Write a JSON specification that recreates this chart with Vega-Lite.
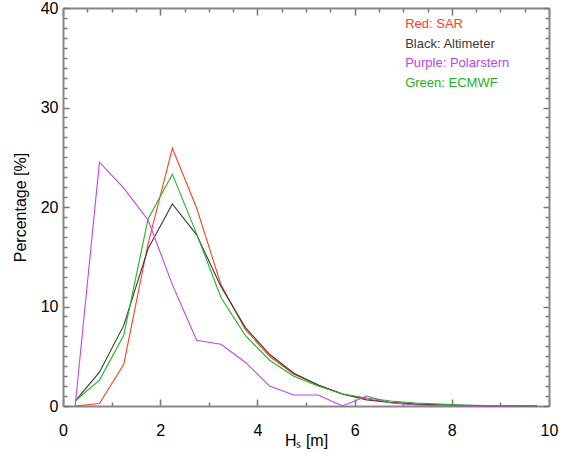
{
  "$schema": "https://vega.github.io/schema/vega-lite/v6.json",
  "width": 486,
  "height": 398,
  "autosize": {"type": "none"},
  "padding": {"left": 63, "top": 8, "right": 24, "bottom": 49},
  "background": "white",
  "config": {
    "font": "Liberation Sans",
    "view": {"stroke": null},
    "axis": {
      "grid": false,
      "domainColor": "#888888",
      "domainWidth": 2,
      "tickColor": "#777777",
      "tickWidth": 1.5,
      "labelColor": "black",
      "titleColor": "black",
      "labelFontSize": 16,
      "titleFontSize": 16,
      "titleFontWeight": "normal",
      "labelOverlap": false,
      "labelFlush": false
    }
  },
  "datasets": {
    "hist": [
      {"hs": 0.25, "pct": 0, "series": "SAR"},
      {"hs": 0.75, "pct": 0.25, "series": "SAR"},
      {"hs": 1.25, "pct": 4.2, "series": "SAR"},
      {"hs": 1.75, "pct": 16.3, "series": "SAR"},
      {"hs": 2.25, "pct": 25.9, "series": "SAR"},
      {"hs": 2.75, "pct": 19.9, "series": "SAR"},
      {"hs": 3.25, "pct": 12.2, "series": "SAR"},
      {"hs": 3.75, "pct": 7.7, "series": "SAR"},
      {"hs": 4.25, "pct": 5.0, "series": "SAR"},
      {"hs": 4.75, "pct": 3.2, "series": "SAR"},
      {"hs": 5.25, "pct": 2.1, "series": "SAR"},
      {"hs": 5.75, "pct": 1.2, "series": "SAR"},
      {"hs": 6.25, "pct": 0.7, "series": "SAR"},
      {"hs": 6.75, "pct": 0.35, "series": "SAR"},
      {"hs": 7.25, "pct": 0.2, "series": "SAR"},
      {"hs": 7.75, "pct": 0.1, "series": "SAR"},
      {"hs": 8.25, "pct": 0.05, "series": "SAR"},
      {"hs": 8.75, "pct": 0.03, "series": "SAR"},
      {"hs": 9.25, "pct": 0, "series": "SAR"},
      {"hs": 9.75, "pct": 0, "series": "SAR"},
      {"hs": 0.25, "pct": 0.5, "series": "Altimeter"},
      {"hs": 0.75, "pct": 3.4, "series": "Altimeter"},
      {"hs": 1.25, "pct": 8.1, "series": "Altimeter"},
      {"hs": 1.75, "pct": 15.8, "series": "Altimeter"},
      {"hs": 2.25, "pct": 20.3, "series": "Altimeter"},
      {"hs": 2.75, "pct": 17.2, "series": "Altimeter"},
      {"hs": 3.25, "pct": 12.0, "series": "Altimeter"},
      {"hs": 3.75, "pct": 7.9, "series": "Altimeter"},
      {"hs": 4.25, "pct": 5.2, "series": "Altimeter"},
      {"hs": 4.75, "pct": 3.3, "series": "Altimeter"},
      {"hs": 5.25, "pct": 2.1, "series": "Altimeter"},
      {"hs": 5.75, "pct": 1.2, "series": "Altimeter"},
      {"hs": 6.25, "pct": 0.6, "series": "Altimeter"},
      {"hs": 6.75, "pct": 0.35, "series": "Altimeter"},
      {"hs": 7.25, "pct": 0.2, "series": "Altimeter"},
      {"hs": 7.75, "pct": 0.1, "series": "Altimeter"},
      {"hs": 8.25, "pct": 0.05, "series": "Altimeter"},
      {"hs": 8.75, "pct": 0.03, "series": "Altimeter"},
      {"hs": 9.25, "pct": 0, "series": "Altimeter"},
      {"hs": 9.75, "pct": 0, "series": "Altimeter"},
      {"hs": 0.25, "pct": 0, "series": "Polarstern"},
      {"hs": 0.75, "pct": 24.5, "series": "Polarstern"},
      {"hs": 1.25, "pct": 21.9, "series": "Polarstern"},
      {"hs": 1.75, "pct": 18.7, "series": "Polarstern"},
      {"hs": 2.25, "pct": 12.2, "series": "Polarstern"},
      {"hs": 2.75, "pct": 6.6, "series": "Polarstern"},
      {"hs": 3.25, "pct": 6.2, "series": "Polarstern"},
      {"hs": 3.75, "pct": 4.4, "series": "Polarstern"},
      {"hs": 4.25, "pct": 2.0, "series": "Polarstern"},
      {"hs": 4.75, "pct": 1.1, "series": "Polarstern"},
      {"hs": 5.25, "pct": 1.1, "series": "Polarstern"},
      {"hs": 5.75, "pct": 0, "series": "Polarstern"},
      {"hs": 6.25, "pct": 1.0, "series": "Polarstern"},
      {"hs": 6.75, "pct": 0.3, "series": "Polarstern"},
      {"hs": 7.25, "pct": 0.1, "series": "Polarstern"},
      {"hs": 7.75, "pct": 0.05, "series": "Polarstern"},
      {"hs": 8.25, "pct": 0, "series": "Polarstern"},
      {"hs": 8.75, "pct": 0, "series": "Polarstern"},
      {"hs": 9.25, "pct": 0, "series": "Polarstern"},
      {"hs": 9.75, "pct": 0, "series": "Polarstern"},
      {"hs": 0.25, "pct": 0.5, "series": "ECMWF"},
      {"hs": 0.75, "pct": 2.6, "series": "ECMWF"},
      {"hs": 1.25, "pct": 7.1, "series": "ECMWF"},
      {"hs": 1.75, "pct": 18.8, "series": "ECMWF"},
      {"hs": 2.25, "pct": 23.3, "series": "ECMWF"},
      {"hs": 2.75, "pct": 17.3, "series": "ECMWF"},
      {"hs": 3.25, "pct": 10.9, "series": "ECMWF"},
      {"hs": 3.75, "pct": 7.1, "series": "ECMWF"},
      {"hs": 4.25, "pct": 4.6, "series": "ECMWF"},
      {"hs": 4.75, "pct": 3.0, "series": "ECMWF"},
      {"hs": 5.25, "pct": 2.0, "series": "ECMWF"},
      {"hs": 5.75, "pct": 1.2, "series": "ECMWF"},
      {"hs": 6.25, "pct": 0.8, "series": "ECMWF"},
      {"hs": 6.75, "pct": 0.5, "series": "ECMWF"},
      {"hs": 7.25, "pct": 0.3, "series": "ECMWF"},
      {"hs": 7.75, "pct": 0.2, "series": "ECMWF"},
      {"hs": 8.25, "pct": 0.1, "series": "ECMWF"},
      {"hs": 8.75, "pct": 0.05, "series": "ECMWF"},
      {"hs": 9.25, "pct": 0.02, "series": "ECMWF"},
      {"hs": 9.75, "pct": 0, "series": "ECMWF"}
    ],
    "notes": [
      {"hs": 7.04, "pct": 38.42, "series": "SAR", "label": "Red: SAR"},
      {"hs": 7.04, "pct": 36.4, "series": "Altimeter", "label": "Black: Altimeter"},
      {"hs": 7.04, "pct": 34.45, "series": "Polarstern", "label": "Purple: Polarstern"},
      {"hs": 7.04, "pct": 32.5, "series": "ECMWF", "label": "Green: ECMWF"}
    ]
  },
  "layer": [
    {
      "data": {"name": "hist"},
      "mark": {"type": "line", "strokeWidth": 1.1},
      "encoding": {
        "x": {
          "field": "hs", "type": "quantitative",
          "scale": {"domain": [0, 10], "nice": false, "zero": false},
          "axis": {
            "orient": "bottom",
            "title": "Hₛ [m]",
            "format": "d",
            "values": [0,0.5,1,1.5,2,2.5,3,3.5,4,4.5,5,5.5,6,6.5,7,7.5,8,8.5,9,9.5,10],
            "labelExpr": "datum.value % 2 === 0 ? datum.label : ''",
            "tickSize": {"condition": {"test": "datum.value % 2 === 0", "value": -7}, "value": -4},
            "labelPadding": 23,
            "titlePadding": -9
          }
        },
        "y": {
          "field": "pct", "type": "quantitative",
          "scale": {"domain": [0, 40], "nice": false},
          "axis": {
            "orient": "left",
            "title": "Percentage [%]",
            "format": "d",
            "values": [0,1,2,3,4,5,6,7,8,9,10,11,12,13,14,15,16,17,18,19,20,21,22,23,24,25,26,27,28,29,30,31,32,33,34,35,36,37,38,39,40],
            "labelExpr": "datum.value % 10 === 0 ? datum.label : ''",
            "tickSize": {"condition": {"test": "datum.value % 10 === 0", "value": -6}, "value": -4},
            "labelPadding": 11,
            "titlePadding": 12
          }
        },
        "color": {
          "field": "series", "type": "nominal",
          "scale": {"domain": ["Altimeter", "SAR", "Polarstern", "ECMWF"], "range": ["#383838", "#ff4028", "#c444ec", "#22b422"]},
          "legend": null
        }
      }
    },
    {
      "data": {"name": "notes"},
      "mark": {"type": "text", "align": "left", "baseline": "middle", "fontSize": 13},
      "encoding": {
        "x": {
          "field": "hs", "type": "quantitative",
          "scale": {"domain": [0, 10], "nice": false, "zero": false},
          "axis": {
            "orient": "top",
            "title": null,
            "values": [0,0.5,1,1.5,2,2.5,3,3.5,4,4.5,5,5.5,6,6.5,7,7.5,8,8.5,9,9.5,10],
            "labels": false,
            "tickSize": {"condition": {"test": "datum.value % 2 === 0", "value": -7}, "value": -4}
          }
        },
        "y": {
          "field": "pct", "type": "quantitative",
          "scale": {"domain": [0, 40], "nice": false},
          "axis": {
            "orient": "right",
            "title": null,
            "values": [0,1,2,3,4,5,6,7,8,9,10,11,12,13,14,15,16,17,18,19,20,21,22,23,24,25,26,27,28,29,30,31,32,33,34,35,36,37,38,39,40],
            "labels": false,
            "tickSize": {"condition": {"test": "datum.value % 10 === 0", "value": -6}, "value": -4}
          }
        },
        "text": {"field": "label"},
        "color": {
          "field": "series", "type": "nominal",
          "scale": {"domain": ["Altimeter", "SAR", "Polarstern", "ECMWF"], "range": ["#383838", "#ff4028", "#c444ec", "#22b422"]},
          "legend": null
        }
      }
    }
  ],
  "resolve": {"axis": {"x": "independent", "y": "independent"}}
}
